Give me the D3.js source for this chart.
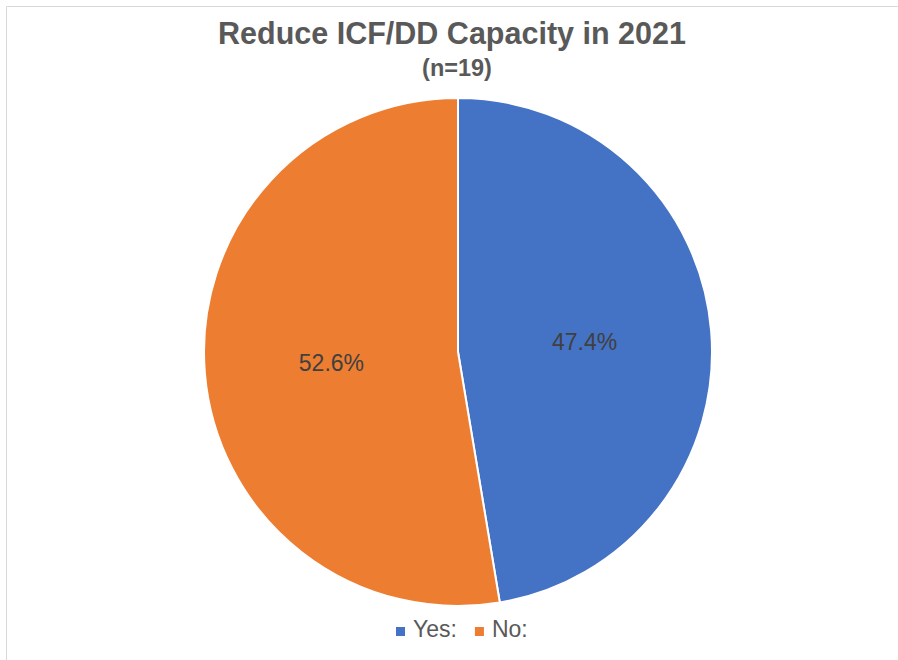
<!DOCTYPE html>
<html>
<head>
<meta charset="utf-8">
<script src="https://cdn.jsdelivr.net/npm/d3@7"></script>
<style>
  body { margin: 0; background: #fff; }
  svg { display: block; font-family: Arial, "Liberation Sans", sans-serif; }
</style>
</head>
<body>
<svg id="chart"></svg>
<script>
// survey answers, n=19
var categories = ["Yes:", "No:"];
var counts = [9, 10];
var colors = ["#4472C4", "#ED7D31"];

var width = 898, height = 660;
var svg = d3.select("#chart").attr("width", width).attr("height", height);

// chart area border (runs off right/bottom edge)
svg.append("path")
  .attr("d", "M6.5," + height + "V6.5H" + width)
  .attr("fill", "none")
  .attr("stroke", "#d9d9d9")
  .attr("stroke-width", 1);

svg.append("text")
  .attr("x", 452).attr("y", 44)
  .attr("text-anchor", "middle")
  .attr("font-size", 30.5).attr("font-weight", "bold")
  .attr("fill", "#595959")
  .text("Reduce ICF/DD Capacity in 2021");

svg.append("text")
  .attr("x", 457).attr("y", 76)
  .attr("text-anchor", "middle")
  .attr("font-size", 23.5).attr("font-weight", "bold")
  .attr("fill", "#595959")
  .text("(n=19)");

var cx = 458, cy = 352, r = 254;
var total = d3.sum(counts);
var pie = d3.pie().sort(null)(counts);
var arc = d3.arc().innerRadius(0).outerRadius(r);
var labelArc = d3.arc().innerRadius(r * 0.5).outerRadius(r * 0.5);

var g = svg.append("g").attr("transform", "translate(" + cx + "," + cy + ")");
g.selectAll("path.slice").data(pie).enter().append("path")
  .attr("class", "slice")
  .attr("d", arc)
  .attr("fill", function(d, i){ return colors[i]; })
  .attr("stroke", "#fff")
  .attr("stroke-width", 2);

g.selectAll("text.lbl").data(pie).enter().append("text")
  .attr("class", "lbl")
  .attr("transform", function(d){ return "translate(" + labelArc.centroid(d) + ")"; })
  .attr("dy", "0.35em")
  .attr("text-anchor", "middle")
  .attr("font-size", 23)
  .attr("fill", "#404040")
  .text(function(d){ return (d.value / total * 100).toFixed(1) + "%"; });

// legend
var legend = svg.append("g").attr("transform", "translate(396,636)");
var lx = 0;
categories.forEach(function(c, i){
  var item = legend.append("g").attr("transform", "translate(" + lx + ",0)");
  item.append("rect").attr("x", 0).attr("y", -9).attr("width", 9).attr("height", 9).attr("fill", colors[i]);
  var t = item.append("text").attr("x", 17).attr("y", 1)
    .attr("font-size", 23).attr("fill", "#595959").text(c);
  lx += 17 + t.node().getComputedTextLength() + 18;
});
</script>
</body>
</html>
